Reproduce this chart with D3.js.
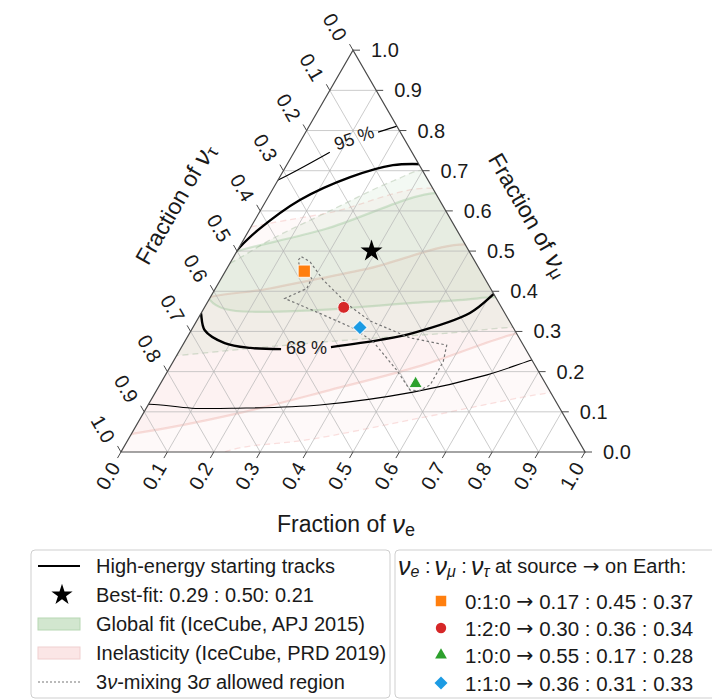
<!DOCTYPE html>
<html>
<head>
<meta charset="utf-8">
<script src="https://cdn.jsdelivr.net/npm/d3@7"></script>
<style>
  body { margin: 0; background: #fff; }
  text { font-family: 'Liberation Sans', Arial, sans-serif; fill: #1a1a1a; }
  .arrow { font-family: 'DejaVu Sans', sans-serif; }
</style>
</head>
<body>
<svg id="chart" width="712" height="700"></svg>
<script>
// ---------------- data (ternary points are [fraction of nu_e, fraction of nu_mu]) ----------------
const tickValues = [0, 0.1, 0.2, 0.3, 0.4, 0.5, 0.6, 0.7, 0.8, 0.9, 1.0];
const tickLabels = ["0.0", "0.1", "0.2", "0.3", "0.4", "0.5", "0.6", "0.7", "0.8", "0.9", "1.0"];
const gridValues = [0.1, 0.2, 0.3, 0.4, 0.5, 0.6, 0.7, 0.8, 0.9];

// High-energy starting tracks, 68% contour (split where the label sits)
const hese68Upper = [[-0.02, 0.448], [-0.008, 0.478], [0.001, 0.51], [0.019, 0.552], [0.072, 0.627],
                     [0.152, 0.684], [0.229, 0.714], [0.30, 0.716]];
const hese68LowerLeft = [[-0.03, 0.39], [-0.002, 0.348], [0.029, 0.303], [0.088, 0.271], [0.149, 0.259],
                         [0.217, 0.256]];
const hese68LowerRight = [[0.322, 0.261], [0.419, 0.279], [0.481, 0.296], [0.579, 0.346], [0.608, 0.396],
                          [0.615, 0.41]];
// High-energy starting tracks, 95% contour
const hese95UpperLeft = [[-0.03, 0.66], [0.0, 0.677], [0.077, 0.746]];
const hese95UpperRight = [[0.156, 0.796], [0.189, 0.811], [0.20, 0.815]];
const hese95Lower = [[-0.03, 0.115], [0.003, 0.119], [0.098, 0.109], [0.195, 0.109], [0.37, 0.117],
                     [0.555, 0.149], [0.693, 0.192], [0.771, 0.229], [0.78, 0.232]];
const contourLabels = [{ text: "68 %", at: [0.271, 0.258], angle: 0 },
                       { text: "95 %", at: [0.112, 0.781], angle: -19 }];

// IceCube global fit (APJ 2015): 95% and 68% regions
const globalFit95 = [[-0.05, 0.44], [0.0, 0.47], [0.06, 0.53], [0.15, 0.60], [0.25, 0.675], [0.31, 0.70],
                     [0.45, 0.60], [0.75, 0.30], [0.72, 0.31], [0.55, 0.295], [0.354, 0.279], [0.17, 0.26],
                     [0.0, 0.24], [-0.06, 0.235], [-0.1, 0.34]];
const globalFit68 = [[-0.04, 0.48], [0.0, 0.50], [0.163, 0.555], [0.36, 0.645], [0.45, 0.62], [0.64, 0.40],
                     [0.582, 0.383], [0.444, 0.371], [0.21, 0.351], [0.046, 0.356], [0.003, 0.378],
                     [-0.03, 0.42]];
// IceCube inelasticity (PRD 2019): 95% and 68% regions
const inelasticity95 = [[-0.05, 0.54], [0.0, 0.56], [0.15, 0.595], [0.37, 0.65], [0.6, 0.46], [0.9, 0.15],
                        [0.844, 0.146], [0.6, 0.084], [0.385, 0.03], [0.251, 0.01], [0.15, -0.03],
                        [-0.05, -0.05], [-0.08, 0.3]];
const inelasticity68 = [[-0.04, 0.364], [0.117, 0.407], [0.3, 0.455], [0.5, 0.515], [0.62, 0.45],
                        [0.75, 0.30], [0.705, 0.295], [0.54, 0.215], [0.373, 0.154], [0.2, 0.095],
                        [0.01, 0.047], [-0.04, 0.04], [-0.08, 0.2]];

// 3-flavour mixing, 3 sigma allowed region
const mixingRegion = [[0.146, 0.486], [0.171, 0.473], [0.222, 0.428], [0.307, 0.366], [0.374, 0.326],
                      [0.481, 0.284], [0.569, 0.266], [0.582, 0.225], [0.583, 0.167], [0.565, 0.152],
                      [0.546, 0.154], [0.492, 0.204], [0.407, 0.274], [0.347, 0.308], [0.256, 0.345],
                      [0.162, 0.382], [0.197, 0.407], [0.195, 0.432], [0.157, 0.457], [0.143, 0.478]];

const bestFit = [0.29, 0.50, 0.21];
const bestFitLabel = "Best-fit: 0.29 : 0.50: 0.21";

// Flavour ratios at Earth for each source composition (nu_e, nu_mu, nu_tau)
const sourceNames = ["0:1:0", "1:2:0", "1:0:0", "1:1:0"];
const earthFractions = [[0.17, 0.45, 0.37], [0.30, 0.36, 0.34], [0.55, 0.17, 0.28], [0.36, 0.31, 0.33]];
const earthLabels = ["0.17 : 0.45 : 0.37", "0.30 : 0.36 : 0.34", "0.55 : 0.17 : 0.28", "0.36 : 0.31 : 0.33"];

// ---------------- styling ----------------
const markerStyle = [
  { type: d3.symbolSquare, size: 150, color: "#ff7f0e", rot: 0 },
  { type: d3.symbolCircle, size: 110, color: "#d62728", rot: 0 },
  { type: d3.symbolTriangle, size: 75, color: "#2ca02c", rot: 0 },
  { type: d3.symbolSquare, size: 105, color: "#1c9be3", rot: 45 }
];
const legendMarkerStyle = [
  { type: d3.symbolSquare, size: 110 }, { type: d3.symbolCircle, size: 85 },
  { type: d3.symbolTriangle, size: 60 }, { type: d3.symbolSquare, size: 85 }
];

// ---------------- ternary projection ----------------
const SQ = Math.sqrt(3) / 2;
const side = 464;
const x = d3.scaleLinear().domain([0, 1]).range([121, 121 + side]);
const y = d3.scaleLinear().domain([0, 1]).range([452, 452 - side * SQ]);
const proj = d => [x(d[0] + d[1] / 2), y(d[1])];

const svg = d3.select("#chart");
svg.append("rect").attr("width", 712).attr("height", 700).attr("fill", "#fff");

const corners = [[0, 0], [1, 0], [0, 1]];
svg.append("clipPath").attr("id", "tri")
  .append("path").attr("d", "M" + corners.map(c => proj(c).join(",")).join("L") + "Z");

const plot = svg.append("g");
const inner = plot.append("g").attr("clip-path", "url(#tri)");

const smoothClosed = d3.line().x(d => proj(d)[0]).y(d => proj(d)[1]).curve(d3.curveCatmullRomClosed.alpha(0.5));
const smooth = d3.line().x(d => proj(d)[0]).y(d => proj(d)[1]).curve(d3.curveCatmullRom.alpha(0.5));
const straightClosed = d3.line().x(d => proj(d)[0]).y(d => proj(d)[1]).curve(d3.curveLinearClosed);

// regions
function region(pts, fill, op, stroke, sw, dash) {
  inner.append("path").attr("d", smoothClosed(pts)).attr("fill", fill).attr("fill-opacity", op)
    .attr("stroke", stroke).attr("stroke-width", sw).attr("stroke-dasharray", dash || null);
}
region(inelasticity95, "#ee8a86", 0.05, "rgba(240,170,165,0.35)", 1.3, "6,4");
region(inelasticity68, "#ee8a86", 0.06, "rgba(232,150,140,0.30)", 2.2);
region(globalFit95, "#62ab62", 0.075, "rgba(175,195,170,0.5)", 1.3, "6,4");
region(globalFit68, "#62ab62", 0.075, "rgba(120,180,120,0.28)", 2.2);

// grid
const grid = inner.append("g").attr("stroke", "#b4b4b4").attr("stroke-width", 0.7).attr("fill", "none");
gridValues.forEach(v => {
  const segs = [
    [[0, v], [1 - v, v]],      // constant nu_mu
    [[v, 0], [v, 1 - v]],      // constant nu_e
    [[1 - v, 0], [0, 1 - v]]   // constant nu_tau
  ];
  segs.forEach(s => {
    const a = proj(s[0]), b = proj(s[1]);
    grid.append("line").attr("x1", a[0]).attr("y1", a[1]).attr("x2", b[0]).attr("y2", b[1]);
  });
});

// HESE contours
function contour(pts, w) {
  inner.append("path").attr("d", smooth(pts)).attr("fill", "none").attr("stroke", "#000")
    .attr("stroke-width", w).attr("stroke-linecap", "butt");
}
contour(hese68Upper, 2.4);
contour(hese68LowerLeft, 2.4);
contour(hese68LowerRight, 2.4);
contour(hese95UpperLeft, 1.1);
contour(hese95UpperRight, 1.1);
contour(hese95Lower, 1.1);

contourLabels.forEach(l => {
  const p = proj(l.at);
  plot.append("text").attr("x", p[0]).attr("y", p[1])
    .attr("transform", `rotate(${l.angle},${p[0]},${p[1]})`)
    .attr("text-anchor", "middle").attr("dominant-baseline", "central")
    .attr("font-size", 18).text(l.text);
});

// mixing region
inner.append("path").attr("d", straightClosed(mixingRegion)).attr("fill", "none")
  .attr("stroke", "#757575").attr("stroke-width", 1.2).attr("stroke-dasharray", "2.5,2.5");

// triangle frame
plot.append("path").attr("d", "M" + corners.map(c => proj(c).join(",")).join("L") + "Z")
  .attr("fill", "none").attr("stroke", "#4a4a4a").attr("stroke-width", 1.2);

// ticks and labels
const ticks = plot.append("g").attr("stroke", "#4a4a4a").attr("stroke-width", 1);
const tl = 7;
tickValues.forEach((v, i) => {
  // bottom axis: nu_e
  let p = proj([v, 0]);
  ticks.append("line").attr("x1", p[0]).attr("y1", p[1]).attr("x2", p[0] - 0.5 * tl).attr("y2", p[1] + SQ * tl);
  plot.append("text").attr("x", p[0] - 13).attr("y", p[1] + 24)
    .attr("transform", `rotate(-60,${p[0] - 13},${p[1] + 24})`)
    .attr("text-anchor", "middle").attr("dominant-baseline", "central").attr("font-size", 20)
    .text(tickLabels[i]);
  // right axis: nu_mu
  p = proj([1 - v, v]);
  ticks.append("line").attr("x1", p[0]).attr("y1", p[1]).attr("x2", p[0] + tl).attr("y2", p[1]);
  plot.append("text").attr("x", p[0] + 18).attr("y", p[1])
    .attr("text-anchor", "start").attr("dominant-baseline", "central").attr("font-size", 20)
    .text(tickLabels[i]);
  // left axis: nu_tau
  p = proj([0, 1 - v]);
  ticks.append("line").attr("x1", p[0]).attr("y1", p[1]).attr("x2", p[0] - 0.5 * tl).attr("y2", p[1] - SQ * tl);
  plot.append("text").attr("x", p[0] - 18).attr("y", p[1] - 23)
    .attr("transform", `rotate(60,${p[0] - 18},${p[1] - 23})`)
    .attr("text-anchor", "middle").attr("dominant-baseline", "central").attr("font-size", 20)
    .text(tickLabels[i]);
});

// axis titles
function axisTitle(cx, cy, angle, sub) {
  const t = plot.append("text").attr("x", cx).attr("y", cy)
    .attr("transform", `rotate(${angle},${cx},${cy})`)
    .attr("text-anchor", "middle").attr("dominant-baseline", "central").attr("font-size", 23);
  t.append("tspan").text("Fraction of ");
  t.append("tspan").attr("font-style", "italic").attr("font-size", 26).text("ν");
  t.append("tspan").attr("font-size", 18).attr("dy", 6).text(sub);
}
axisTitle(346, 524, 0, "e");
axisTitle(175, 204, -60, "τ");
axisTitle(529, 215, 60, "μ");

// markers
const markers = plot.append("g");
earthFractions.forEach((f, i) => {
  const p = proj(f);
  const s = markerStyle[i];
  markers.append("path").attr("d", d3.symbol().type(s.type).size(s.size)())
    .attr("transform", `translate(${p[0]},${p[1]}) rotate(${s.rot})`)
    .attr("fill", s.color).attr("stroke", "#fff").attr("stroke-width", 1).attr("stroke-opacity", 0.85);
});
const bf = proj(bestFit);
markers.append("path").attr("d", d3.symbol().type(d3.symbolStar).size(150)())
  .attr("transform", `translate(${bf[0]},${bf[1]})`).attr("fill", "#000");

// ---------------- legends ----------------
const leg = svg.append("g");
leg.append("rect").attr("x", 31).attr("y", 550).attr("width", 359).attr("height", 148).attr("rx", 4)
  .attr("fill", "#fff").attr("stroke", "#cfcfcf");
leg.append("rect").attr("x", 395).attr("y", 550).attr("width", 340).attr("height", 148).attr("rx", 4)
  .attr("fill", "#fff").attr("stroke", "#cfcfcf");

const rowsL = [566, 595, 624, 653, 682];
const tx = 96;
// row 1: line
leg.append("line").attr("x1", 38).attr("x2", 80).attr("y1", rowsL[0]).attr("y2", rowsL[0])
  .attr("stroke", "#000").attr("stroke-width", 2);
// row 2: star
leg.append("path").attr("d", d3.symbol().type(d3.symbolStar).size(140)())
  .attr("transform", `translate(62,${rowsL[1]})`).attr("fill", "#000");
// row 3/4: patches
leg.append("rect").attr("x", 38).attr("y", rowsL[2] - 6).attr("width", 42).attr("height", 12)
  .attr("fill", "#d2e6cf").attr("stroke", "#b7d7b3");
leg.append("rect").attr("x", 38).attr("y", rowsL[3] - 6).attr("width", 42).attr("height", 12)
  .attr("fill", "#fbe6e6").attr("stroke", "#f0cfcf");
// row 5: dotted
leg.append("line").attr("x1", 38).attr("x2", 80).attr("y1", rowsL[4]).attr("y2", rowsL[4])
  .attr("stroke", "#777").attr("stroke-width", 1.2).attr("stroke-dasharray", "2,2");

const legText = (xx, yy, fs) => leg.append("text").attr("x", xx).attr("y", yy)
  .attr("dominant-baseline", "central").attr("font-size", fs || 20);
legText(tx, rowsL[0]).text("High-energy starting tracks");
legText(tx, rowsL[1]).text(bestFitLabel);
legText(tx, rowsL[2]).text("Global fit (IceCube, APJ 2015)");
legText(tx, rowsL[3]).text("Inelasticity (IceCube, PRD 2019)");
const mix = legText(tx, rowsL[4]);
mix.append("tspan").text("3");
mix.append("tspan").attr("font-style", "italic").text("ν");
mix.append("tspan").text("-mixing 3");
mix.append("tspan").attr("font-style", "italic").text("σ");
mix.append("tspan").text(" allowed region");

// right legend header
const hdr = legText(398, 566);
["e", "μ", "τ"].forEach((s, i) => {
  hdr.append("tspan").attr("font-style", "italic").attr("font-size", 25).text("ν");
  hdr.append("tspan").attr("font-style", "italic").attr("font-size", 16).attr("dy", 5).text(s);
  hdr.append("tspan").attr("dy", -5).text(i < 2 ? " :\u2009" : " at source ");
});
hdr.append("tspan").attr("class", "arrow").text("→");
hdr.append("tspan").text(" on Earth:");

const rowsR = [601, 628, 655, 683];
sourceNames.forEach((n, i) => {
  const s = legendMarkerStyle[i];
  leg.append("path").attr("d", d3.symbol().type(s.type).size(s.size)())
    .attr("transform", `translate(441,${rowsR[i]}) rotate(${markerStyle[i].rot})`)
    .attr("fill", markerStyle[i].color);
  const t = legText(465, rowsR[i], 20.5);
  t.append("tspan").text(n + " ");
  t.append("tspan").attr("class", "arrow").text("→");
  t.append("tspan").text(" " + earthLabels[i]);
});
</script>
</body>
</html>
